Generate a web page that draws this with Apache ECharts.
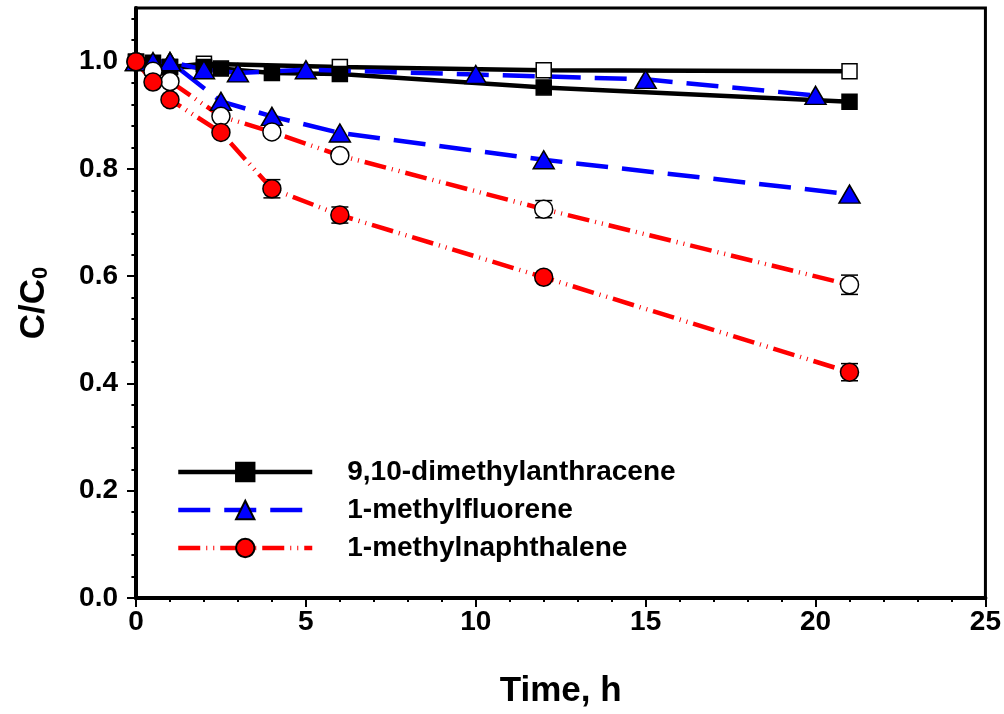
<!DOCTYPE html>
<html><head><meta charset="utf-8">
<script src="https://cdn.jsdelivr.net/npm/echarts@6/dist/echarts.min.js"></script>
<style>html,body{margin:0;padding:0;background:#fff}#c{width:1004px;height:714px}</style>
</head><body><div id="c"></div>
<script>
// ---- data ----
const legendNames = ['9,10-dimethylanthracene', '1-methylfluorene', '1-methylnaphthalene'];
const yTickValues = [0, 0.2, 0.4, 0.6, 0.8, 1.0];
const yMinorTickValues = [0.04,0.08,0.12,0.16,0.24,0.28,0.32,0.36,0.44,0.48,0.52,0.56,0.64,0.68,0.72,0.76,0.84,0.88,0.92,0.96,1.04,1.08];

const dmaFilledX = [0, 0.5, 1, 2, 2.5, 4, 6, 12, 21];
const dmaFilledY = [1.0, 0.998, 0.99, 0.99, 0.987, 0.979, 0.977, 0.952, 0.925];
const dmaOpenX = [0, 1, 2, 6, 12, 21];
const dmaOpenY = [1.0, 0.99, 0.996, 0.99, 0.984, 0.982];

const mfUpperX = [0, 0.5, 1, 2, 3, 5, 10, 15, 20];
const mfUpperY = [1.0, 1.0, 1.0, 0.985, 0.979, 0.985, 0.976, 0.967, 0.937];
const mfLowerX = [0, 1, 2.5, 4, 6, 12, 21];
const mfLowerY = [1.0, 1.0, 0.926, 0.898, 0.867, 0.817, 0.753];

const mnOpenX = [0, 0.5, 1, 2.5, 4, 6, 12, 21];
const mnOpenY = [1.0, 0.982, 0.963, 0.898, 0.869, 0.825, 0.725, 0.584];
const mnOpenErr = [0, 0, 0, 0, 0, 0, 0.016, 0.018];
const mnFilledX = [0, 0.5, 1, 2.5, 4, 6, 12, 21];
const mnFilledY = [1.0, 0.962, 0.929, 0.868, 0.763, 0.714, 0.598, 0.421];
const mnFilledErr = [0, 0, 0, 0, 0.017, 0.015, 0, 0.016];

// ---- chart ----
const FONT = '"Liberation Sans", Arial, sans-serif';
const pts = (xs, ys) => xs.map((x, i) => [x, ys[i]]);
const errData = (xs, ys, es) => xs.map((x, i) => [x, ys[i] - es[i], ys[i] + es[i]]).filter((d, i) => es[i] > 0);

function lineSeries(name, xs, ys, color, dash, symbol, size, fill) {
  return {
    type: 'line', name, data: pts(xs, ys), z: 3,
    lineStyle: { color, width: 4.5, type: dash, cap: 'butt' },
    itemStyle: { color: fill, borderColor: '#000', borderWidth: 1.5 },
    symbol, symbolSize: size, showAllSymbol: true, animation: false
  };
}
function errSeries(xs, ys, es) {
  return {
    type: 'custom', z: 1, silent: true, animation: false,
    data: errData(xs, ys, es),
    renderItem(params, api) {
      const x = api.value(0);
      const lo = api.coord([x, api.value(1)]);
      const hi = api.coord([x, api.value(2)]);
      const w = 8.5;
      const st = { stroke: '#000', lineWidth: 1.5 };
      return { type: 'group', children: [
        { type: 'line', shape: { x1: lo[0], y1: lo[1], x2: hi[0], y2: hi[1] }, style: st },
        { type: 'line', shape: { x1: lo[0] - w, y1: lo[1], x2: lo[0] + w, y2: lo[1] }, style: st },
        { type: 'line', shape: { x1: hi[0] - w, y1: hi[1], x2: hi[0] + w, y2: hi[1] }, style: st }
      ]};
    }
  };
}

const redDash = [22, 6, 1, 6, 1, 6];
const blueDash = [32, 14];

const chart = echarts.init(document.getElementById('c'), null, { renderer: 'canvas' });
chart.setOption({
  backgroundColor: '#fff',
  animation: false,
  grid: { left: 136, right: 18, top: 8, bottom: 114, show: true, borderColor: '#000', borderWidth: 3, backgroundColor: 'transparent' },
  xAxis: {
    type: 'value', min: 0, max: 25, interval: 5,
    name: 'Time, h', nameLocation: 'middle', nameGap: 76,
    nameTextStyle: { fontFamily: FONT, fontWeight: 'bold', fontSize: 35, color: '#000' },
    axisLine: { lineStyle: { color: '#000', width: 4 } },
    axisTick: { length: 9, lineStyle: { color: '#000', width: 2 } },
    minorTick: { show: true, splitNumber: 5, length: 4, lineStyle: { color: '#000', width: 2 } },
    axisLabel: { margin: 10, fontFamily: FONT, fontWeight: 'bold', fontSize: 28, color: '#000' },
    splitLine: { show: false }
  },
  yAxis: [{
    type: 'value', min: 0, max: 1.1,
    name: '{a|C/C}{b|0}', nameLocation: 'middle', nameGap: 84, nameRotate: 90,
    nameTextStyle: { color: '#000', rich: {
      a: { fontFamily: FONT, fontWeight: 'bold', fontSize: 35, color: '#000' },
      b: { fontFamily: FONT, fontWeight: 'bold', fontSize: 22, color: '#000', padding: [14, 0, 0, 0] }
    } },
    axisLine: { lineStyle: { color: '#000', width: 4 } },
    axisTick: { length: 9, customValues: yTickValues, lineStyle: { color: '#000', width: 2 } },
    axisLabel: { margin: 18, customValues: yTickValues, formatter: v => v.toFixed(1), fontFamily: FONT, fontWeight: 'bold', fontSize: 28, color: '#000' },
    splitLine: { show: false }
  }, {
    type: 'value', min: 0, max: 1.1, position: 'right', offset: -850,
    axisLine: { show: false },
    axisTick: { show: true, inside: true, length: 4, customValues: yMinorTickValues, lineStyle: { color: '#000', width: 2 } },
    axisLabel: { show: false },
    splitLine: { show: false }
  }],
  legend: {
    data: legendNames, orient: 'vertical', left: 176, top: 458, padding: 0,
    itemWidth: 134, itemHeight: 23, itemGap: 10,
    lineStyle: { width: 4.5 },
    textStyle: { fontFamily: FONT, fontWeight: 'bold', fontSize: 28, color: '#000', padding: [0, 0, 0, 30] },
    selectedMode: false
  },
  series: [
    lineSeries('9,10-dimethylanthracene (open)', dmaOpenX, dmaOpenY, '#000', 'solid', 'rect', 15, '#fff'),
    lineSeries(legendNames[0], dmaFilledX, dmaFilledY, '#000', 'solid', 'rect', 15, '#000'),
    lineSeries('1-methylfluorene (b)', mfUpperX, mfUpperY, '#0000ff', blueDash, 'triangle', [21, 18], '#0000ff'),
    lineSeries(legendNames[1], mfLowerX, mfLowerY, '#0000ff', blueDash, 'triangle', [21, 18], '#0000ff'),
    lineSeries('1-methylnaphthalene (open)', mnOpenX, mnOpenY, '#ff0000', redDash, 'circle', 18, '#fff'),
    lineSeries(legendNames[2], mnFilledX, mnFilledY, '#ff0000', redDash, 'circle', 18, '#ff0000'),
    errSeries(mnOpenX, mnOpenY, mnOpenErr),
    errSeries(mnFilledX, mnFilledY, mnFilledErr)
  ]
});
</script></body></html>
